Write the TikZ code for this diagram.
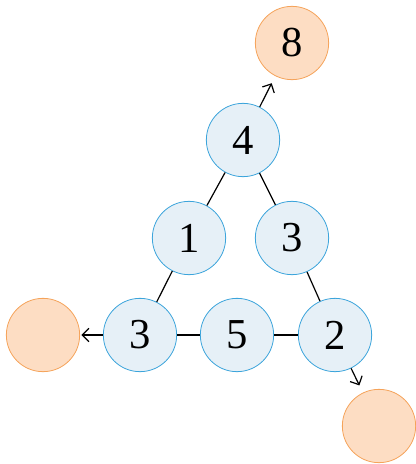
\documentclass[tikz,border=0pt]{standalone}
\usepackage{fontspec}
\setmainfont{Liberation Serif}
\usetikzlibrary{arrows.meta}
\definecolor{bfill}{HTML}{E6F0F7}
\definecolor{bdraw}{HTML}{3BA4DB}
\definecolor{ofill}{HTML}{FDDDC3}
\definecolor{odraw}{HTML}{F5A35A}
\begin{document}
\begin{tikzpicture}[x=0.75pt,y=-0.75pt,
  bnode/.style={circle,draw=bdraw,fill=bfill,line width=0.6pt,minimum size=55pt,inner sep=0pt,font=\fontsize{32}{34}\selectfont},
  onode/.style={circle,draw=odraw,fill=ofill,line width=0.6pt,minimum size=55pt,inner sep=0pt,font=\fontsize{32}{34}\selectfont},
  edge/.style={line width=0.9pt,black},
  arr/.style={line width=0.9pt,black,-{Straight Barb[length=5pt,width=10pt]}}]
\useasboundingbox (0,0) rectangle (415,464);
\node[onode] (o8) at (292,43) {8};
\node[bnode] (n4) at (243,140) {4};
\node[bnode] (n1) at (189,238) {1};
\node[bnode] (n3a) at (292,238) {3};
\node[bnode] (n3b) at (140,335) {3};
\node[bnode] (n5) at (237,335) {5};
\node[bnode] (n2) at (335,335) {2};
\node[onode] (oL) at (43,335) {};
\node[onode] (oR) at (379,426) {};
\draw[edge] (n4) -- (n1);
\draw[edge] (n4) -- (n3a);
\draw[edge] (n1) -- (n3b);
\draw[edge] (n3a) -- (n2);
\draw[edge] (n3b) -- (n5);
\draw[edge] (n5) -- (n2);
\draw[arr,shorten >=6pt] (n4) -- (o8);
\draw[arr,shorten >=1pt] (n3b) -- (oL);
\draw[arr,shorten >=6pt] (n2) -- (oR);
\end{tikzpicture}
\end{document}
